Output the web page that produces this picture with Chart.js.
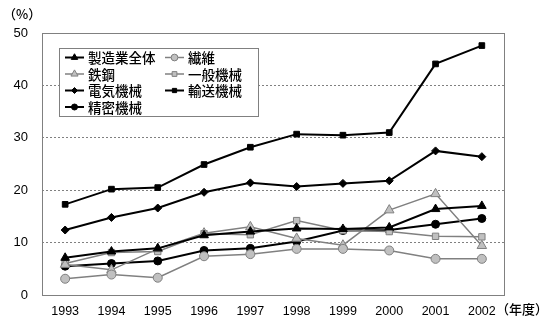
<!DOCTYPE html>
<html>
<head>
<meta charset="utf-8">
<script src="https://cdn.jsdelivr.net/npm/chart.js@4.4.1/dist/chart.umd.min.js"></script>
<style>
  html, body { margin: 0; padding: 0; background: #fff; }
  #wrap { width: 550px; height: 326px; }
</style>
</head>
<body>
<div id="wrap"><canvas id="c" width="550" height="326"></canvas></div>
<script>
// 年度
const years = ['1993', '1994', '1995', '1996', '1997', '1998', '1999', '2000', '2001', '2002'];

// 各業種の比率（%）
const seizogyoZentai = [7.1, 8.3, 8.9, 11.4, 12.1, 12.7, 12.6, 12.9, 16.4, 17.0];
const seni          = [3.1, 3.9, 3.3, 7.4, 7.8, 8.8, 8.8, 8.5, 6.9, 6.9];
const tekko         = [5.8, 4.8, 8.8, 11.8, 13.0, 10.8, 9.5, 16.2, 19.3, 9.4];
const ippanKikai    = [6.0, 8.1, 8.3, 11.7, 11.5, 14.2, 12.3, 12.1, 11.2, 11.1];
const denkiKikai    = [12.4, 14.8, 16.6, 19.6, 21.4, 20.7, 21.3, 21.8, 27.5, 26.4];
const yusoKikai     = [17.3, 20.2, 20.5, 24.9, 28.2, 30.7, 30.5, 31.0, 44.1, 47.6];
const seimitsuKikai = [5.5, 6.0, 6.5, 8.5, 8.9, 10.2, 12.3, 12.4, 13.5, 14.6];

const yTicks = [0, 10, 20, 30, 40, 50];

const BLACK = '#000000';
const GRAY = '#808080';
const LIGHT = '#c0c0c0';
const FONT = '"Liberation Sans", Arial, sans-serif';
const JFONT = '"Noto Sans CJK JP", sans-serif';

function series(label, data, style, dark, radius) {
  return {
    label: label,
    data: data,
    borderColor: dark ? BLACK : GRAY,
    backgroundColor: dark ? BLACK : LIGHT,
    pointBorderColor: dark ? BLACK : GRAY,
    pointBackgroundColor: dark ? BLACK : LIGHT,
    borderWidth: dark ? 2 : 1.5,
    pointBorderWidth: 1,
    pointStyle: style,
    pointRadius: radius,
    pointHoverRadius: radius,
    tension: 0,
    fill: false
  };
}

const datasets = [
  series('製造業全体', seizogyoZentai, 'triangle', true, 5),
  series('繊維', seni, 'circle', false, 4.5),
  series('鉄鋼', tekko, 'triangle', false, 5.5),
  series('一般機械', ippanKikai, 'rect', false, 4.5),
  series('電気機械', denkiKikai, 'rectRot', true, 4),
  series('輸送機械', yusoKikai, 'rect', true, 4),
  series('精密機械', seimitsuKikai, 'circle', true, 4)
];

// 枠線・単位ラベル・凡例
const decorations = {
  id: 'decorations',
  afterDraw(chart) {
    const ctx = chart.ctx;
    const a = chart.chartArea;
    ctx.save();
    ctx.strokeStyle = GRAY;
    ctx.lineWidth = 1;
    ctx.strokeRect(Math.round(a.left) + 0.5, Math.round(a.top) + 0.5,
                   Math.round(a.right - a.left) - 1, Math.round(a.bottom - a.top));

    ctx.fillStyle = BLACK;
    ctx.font = '500 13px ' + JFONT;
    ctx.textBaseline = 'middle';
    ctx.textAlign = 'left';
    ctx.fillText('（%）', 3, 14);
    ctx.fillText('（年度）', 496, 309);

    // 凡例
    const lx = 59, ly = 48, lw = 199, lh = 68;
    ctx.fillStyle = '#ffffff';
    ctx.fillRect(lx, ly, lw, lh);
    ctx.strokeStyle = GRAY;
    ctx.strokeRect(lx + 0.5, ly + 0.5, lw, lh);

    const cols = [lx + 6, lx + 106];
    const rowH = 16.5;
    datasets.forEach((ds, i) => {
      const x = cols[i % 2];
      const y = ly + 9.5 + Math.floor(i / 2) * rowH;
      ctx.strokeStyle = ds.borderColor;
      ctx.lineWidth = ds.borderWidth;
      ctx.beginPath();
      ctx.moveTo(x, y);
      ctx.lineTo(x + 19, y);
      ctx.stroke();
      ctx.fillStyle = ds.pointBackgroundColor;
      ctx.strokeStyle = ds.pointBorderColor;
      ctx.lineWidth = 1;
      Chart.helpers.drawPoint(ctx, {
        pointStyle: ds.pointStyle,
        radius: ds.pointRadius * 0.75,
        rotation: 0,
        borderWidth: 1
      }, x + 9.5, y);
      ctx.fillStyle = BLACK;
      ctx.font = '500 13.5px ' + JFONT;
      ctx.textBaseline = 'middle';
      ctx.textAlign = 'left';
      ctx.fillText(ds.label, x + 23, y + 0.5);
    });
    ctx.restore();
  }
};

new Chart(document.getElementById('c'), {
  type: 'line',
  data: { labels: years, datasets: datasets },
  plugins: [decorations],
  options: {
    responsive: false,
    animation: false,
    events: [],
    layout: { padding: { left: 0, right: 45, top: 33, bottom: 0 } },
    plugins: { legend: { display: false }, tooltip: { enabled: false } },
    scales: {
      x: {
        offset: true,
        grid: { display: false, drawTicks: false },
        border: { display: false },
        ticks: { color: BLACK, font: { family: FONT, size: 12.5 }, padding: 9, maxRotation: 0, autoSkip: false },
        afterFit(scale) { scale.height = 31; }
      },
      y: {
        min: 0,
        max: 50,
        afterBuildTicks(scale) { scale.ticks = yTicks.map(v => ({ value: v })); },
        grid: {
          drawTicks: false,
          color: ctx => (ctx.tick && (ctx.tick.value === 0 || ctx.tick.value === 50)) ? 'rgba(0,0,0,0)' : GRAY,
          lineWidth: 1
        },
        border: { display: false, dash: [2, 2] },
        ticks: { color: BLACK, font: { family: FONT, size: 13 }, padding: 14 },
        afterFit(scale) { scale.width = 42; }
      }
    }
  }
});
</script>
</body>
</html>
